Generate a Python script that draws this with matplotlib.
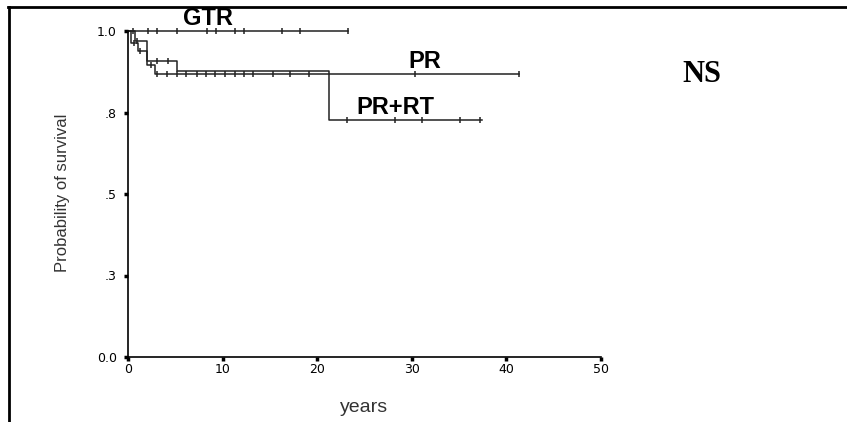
import numpy as np
import matplotlib
matplotlib.use('Agg')
import matplotlib.pyplot as plt
from matplotlib.lines import Line2D

# Kaplan-Meier step data (time in years, survival)
gtr_t = [0, 23.3]
gtr_s = [1.0, 1.0]
gtr_cens = [0.5, 2.1, 3.1, 5.2, 8.3, 9.3, 11.3, 12.3, 16.3, 18.2, 23.3]

pr_t = [0, 0.3, 1.1, 2.0, 2.9, 41.3]
pr_s = [1.0, 0.962, 0.94, 0.897, 0.868, 0.868]
pr_cens = [0.6, 1.3, 2.4, 3.1, 4.1, 5.2, 6.1, 7.3, 8.2, 9.2, 10.3, 11.3, 12.3,
           13.2, 15.3, 17.1, 19.1, 30.3, 41.3]

prrt_t = [0, 0.7, 2.0, 5.2, 21.2, 37.4]
prrt_s = [1.0, 0.97, 0.908, 0.877, 0.727, 0.727]
prrt_cens = [1.0, 3.1, 4.2, 23.2, 28.2, 31.1, 35.1, 37.2]

yticks = [0, 0.25, 0.5, 0.75, 1.0]
ytick_labels = ['0.0', '.3', '.5', '.8', '1.0']
xticks = [0, 10, 20, 30, 40, 50]


def surv_at(t, s, x):
    i = np.searchsorted(t, x, side='right') - 1
    return np.asarray(s)[i]


fig = plt.figure(figsize=(8.47, 4.22), dpi=100)
ax = fig.add_axes([128 / 847, 65 / 422, 473 / 847, 326 / 422])

col = '#222222'
for t, s, c in [(gtr_t, gtr_s, gtr_cens), (pr_t, pr_s, pr_cens), (prrt_t, prrt_s, prrt_cens)]:
    ax.step(t, s, where='post', color=col, lw=1.1, clip_on=False)
    ax.plot(c, surv_at(t, s, c), ls='none', marker='|', ms=5, mew=1.1,
            color=col, clip_on=False)

ax.set_xlim(0, 50)
ax.set_ylim(0, 1)
ax.set_xticks(xticks)
ax.set_yticks(yticks)
ax.set_yticklabels(ytick_labels)
ax.spines['top'].set_visible(False)
ax.spines['right'].set_visible(False)
ax.spines['left'].set_linewidth(1.2)
ax.spines['bottom'].set_linewidth(1.2)
ax.tick_params(axis='both', direction='out', length=3, width=2.5, labelsize=9)
ax.tick_params(axis='y', pad=5)
ax.tick_params(axis='x', pad=1)

ax.text(8.5, 1.037, 'GTR', ha='center', va='center', fontsize=17,
        fontweight='bold', family='Liberation Sans')
ax.text(31.4, 0.905, 'PR', ha='center', va='center', fontsize=17,
        fontweight='bold', family='Liberation Sans')
ax.text(28.3, 0.764, 'PR+RT', ha='center', va='center', fontsize=17,
        fontweight='bold', family='Liberation Sans')

fig.text(702 / 847, 1 - 74 / 422, 'NS', ha='center', va='center', fontsize=22,
         fontweight='bold', family='Liberation Serif')
fig.text(62 / 847, 1 - 193 / 422, 'Probability of survival', rotation=90,
         ha='center', va='center', fontsize=12, color='#333333',
         family=['Liberation Sans Narrow', 'Liberation Sans'])
fig.text(364 / 847, 1 - 407 / 422, 'years', ha='center', va='center',
         fontsize=14, color='#333333', family='Liberation Sans')

# frame lines around the figure
fig.add_artist(Line2D([8 / 847, 1], [1 - 7 / 422, 1 - 7 / 422], color='black', lw=2,
                      transform=fig.transFigure))
fig.add_artist(Line2D([9 / 847, 9 / 847], [0, 1 - 7 / 422], color='black', lw=2,
                      transform=fig.transFigure))

fig.savefig('out.png', dpi=100)
